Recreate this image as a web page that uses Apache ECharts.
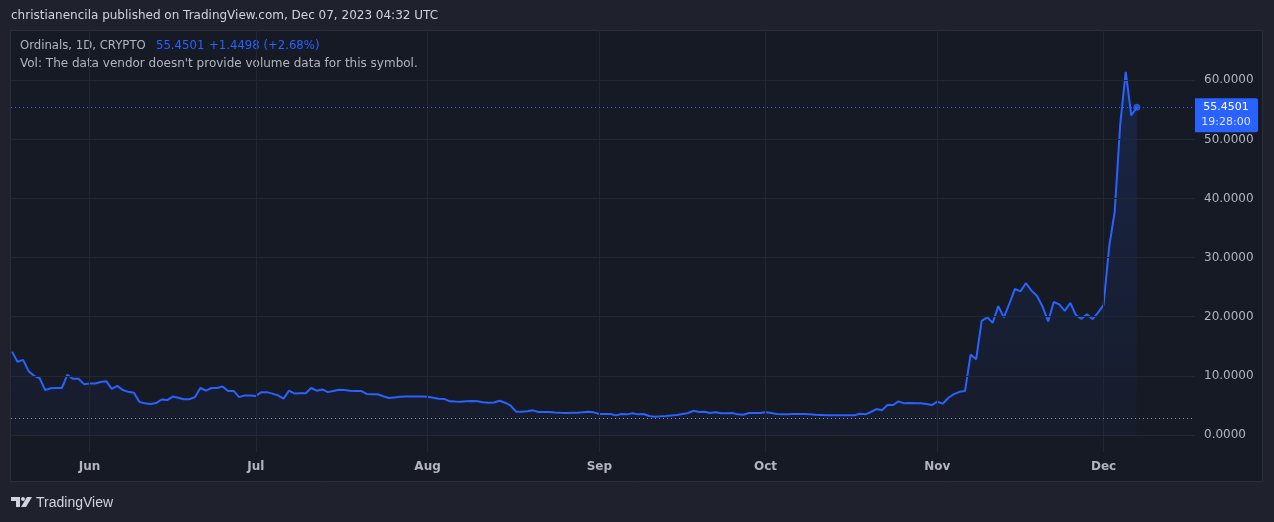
<!DOCTYPE html>
<html>
<head>
<meta charset="utf-8">
<script src="https://cdn.jsdelivr.net/npm/echarts@6/dist/echarts.min.js"></script>
<style>
html,body{margin:0;padding:0;background:#1f222d;}
#c{width:1274px;height:522px;}
</style>
</head>
<body>
<div id="c"></div>
<script>
// Ordinals (ORDI) daily close, 2023-05-18 .. 2023-12-07 (index = day offset)
const startDate = '2023-05-18';
const prices = [
14.1,12.4,12.7,10.8,10.0,9.6,7.6,7.9,7.95,7.95,
10.2,9.5,9.5,8.6,8.7,8.7,8.95,9.1,7.8,8.3,
7.6,7.3,7.15,5.6,5.35,5.25,5.4,6.0,5.9,6.5,
6.3,6.05,6.05,6.4,7.95,7.5,7.95,7.95,8.2,7.45,
7.45,6.4,6.7,6.7,6.6,7.25,7.25,7.0,6.7,6.15,
7.5,7.0,7.05,7.05,7.95,7.5,7.7,7.25,7.45,7.65,
7.6,7.5,7.45,7.45,6.95,6.9,6.9,6.55,6.25,6.35,
6.45,6.5,6.5,6.5,6.5,6.47,6.3,6.13,6.1,5.7,
5.65,5.63,5.7,5.74,5.7,5.55,5.46,5.5,5.8,5.46,
4.95,3.94,3.95,4.0,4.17,3.89,3.89,3.89,3.8,3.75,
3.72,3.75,3.77,3.85,3.94,3.83,3.55,3.55,3.55,3.32,
3.55,3.49,3.66,3.49,3.55,3.21,3.1,3.15,3.21,3.3,
3.38,3.55,3.72,4.1,3.89,3.94,3.72,3.83,3.66,3.66,
3.72,3.49,3.43,3.72,3.72,3.72,3.83,3.72,3.55,3.5,
3.49,3.55,3.55,3.55,3.5,3.43,3.38,3.32,3.32,3.32,
3.32,3.32,3.32,3.6,3.49,3.89,4.39,4.2,5.07,5.07,
5.69,5.35,5.4,5.38,5.35,5.24,5.07,5.63,5.3,6.3,
6.9,7.3,7.45,13.6,12.8,19.3,19.9,19.0,21.8,19.9,
22.2,24.7,24.3,25.7,24.4,23.5,21.7,19.2,22.5,22.1,
21.0,22.35,20.3,19.65,20.4,19.6,20.7,22.0,31.8,37.7,
52.5,61.4,54.05,55.4501
];
const monthLabels = ['Jun','Jul','Aug','Sep','Oct','Nov','Dec'];
const monthTickIdx = [14,44,75,106,136,167,197];
const yTicks = [0,10,20,30,40,50,60];
const lowLine = 2.85;
const lastTime = '19:28:00';
const change = '+1.4498 (+2.68%)';

const lastIdx = prices.length - 1;
const lastVal = prices[lastIdx];
const seriesData = prices.map((v, i) => [i, v]);

const GRID = {left: 11, right: 79, top: 30, bottom: 70};
const gridColor = '#232733';
const textColor = '#b2b5be';
const blue = '#2962ff';
const FONT = 'Liberation Sans, Arial, sans-serif';
const DV = 'DejaVu Sans, sans-serif';

const chart = echarts.init(document.getElementById('c'), null, {renderer: 'canvas'});

const gridLines = [];
yTicks.forEach(v => gridLines.push({yAxis: v}));
monthTickIdx.forEach(v => gridLines.push({xAxis: v}));

const option = {
  backgroundColor: '#1f222d',
  animation: false,
  grid: GRID,
  xAxis: {
    type: 'value',
    min: -0.18,
    max: 213.5,
    axisLine: {show: false},
    axisTick: {show: false},
    splitLine: {show: false},
    axisLabel: {
      customValues: monthTickIdx,
      color: textColor,
      fontFamily: DV,
      fontSize: 12,
      fontWeight: 'bold',
      margin: 9,
      formatter: v => monthLabels[monthTickIdx.indexOf(v)] || ''
    }
  },
  yAxis: {
    type: 'value',
    position: 'right',
    min: -2.876,
    max: 68.5,
    axisLine: {show: false},
    axisTick: {show: false},
    splitLine: {show: false},
    axisLabel: {
      customValues: yTicks,
      color: textColor,
      fontFamily: DV,
      fontSize: 12,
      margin: 9,
      formatter: v => v.toFixed(4)
    }
  },
  series: [
    {
      name: 'grid',
      type: 'line',
      data: [],
      z: 0,
      silent: true,
      markLine: {
        silent: true,
        symbol: ['none', 'none'],
        label: {show: false},
        lineStyle: {type: 'solid', color: gridColor, width: 1},
        data: gridLines,
        animation: false
      }
    },
    {
      name: 'Ordinals',
      type: 'line',
      data: seriesData,
      z: 3,
      symbol: 'none',
      lineStyle: {color: blue, width: 2},
      areaStyle: {
        origin: 0,
        color: new echarts.graphic.LinearGradient(0, 0, 0, 1, [
          {offset: 0, color: 'rgba(41,98,255,0.22)'},
          {offset: 1, color: 'rgba(41,98,255,0.04)'}
        ])
      },
      markLine: {
        silent: true,
        symbol: ['none', 'none'],
        label: {show: false},
        animation: false,
        data: [
          {yAxis: lastVal, lineStyle: {type: [1, 3], color: blue, width: 1}},
          {yAxis: lowLine, lineStyle: {type: [1, 3], color: '#9598a1', width: 1}}
        ]
      }
    },
    {
      name: 'last',
      type: 'scatter',
      z: 4,
      data: [[lastIdx, lastVal]],
      symbol: 'circle',
      symbolSize: 7,
      itemStyle: {color: blue}
    }
  ],
  graphic: [
    {type: 'rect', z: -10, silent: true,
     shape: {x: 10.5, y: 30.5, width: 1252, height: 451},
     style: {fill: '#161a25', stroke: '#2a2e39', lineWidth: 1}},
    {type: 'text', left: 11, top: 10, silent: true,
     style: {text: 'christianencila published on TradingView.com, Dec 07, 2023 04:32 UTC',
             fill: '#d1d4dc', font: '12px ' + DV}},
    {type: 'text', left: 20, top: 40, silent: true,
     style: {text: 'Ordinals, 1D, CRYPTO', fill: textColor, font: '11.7px ' + DV}},
    {type: 'text', left: 156, top: 40, silent: true,
     style: {text: lastVal.toFixed(4), fill: blue, font: '11.7px ' + DV}},
    {type: 'text', left: 209, top: 40, silent: true,
     style: {text: change, fill: blue, font: '11.7px ' + DV}},
    {type: 'text', left: 20, top: 58, silent: true,
     style: {text: "Vol: The data vendor doesn't provide volume data for this symbol.", fill: textColor, font: '12px ' + DV}},
    // TradingView logo
    {type: 'polygon', silent: true,
     shape: {points: [[11,497],[20,497],[20,507],[16,507],[16,501],[11,501]]},
     style: {fill: '#d1d4dc'}},
    {type: 'circle', silent: true, shape: {cx: 23, cy: 499, r: 2}, style: {fill: '#d1d4dc'}},
    {type: 'polygon', silent: true,
     shape: {points: [[27,497],[32,497],[26,507],[21,507]]},
     style: {fill: '#d1d4dc'}},
    {type: 'text', left: 36, top: 496, silent: true,
     style: {text: 'TradingView', fill: '#d1d4dc', font: '14px ' + FONT}}
  ]
};

chart.setOption(option);

// price tag in the right axis area, positioned through the chart's own scales
const p = chart.convertToPixel({gridIndex: 0}, [lastIdx, lastVal]);
const tagX = 1274 - GRID.right;
chart.setOption({
  graphic: option.graphic.concat([
    {type: 'rect', silent: true, z: 10,
     shape: {x: tagX, y: p[1] - 9, width: 63, height: 34, r: [0, 2, 2, 0]},
     style: {fill: blue}},
    {type: 'text', silent: true, z: 11, x: tagX + 31, y: p[1],
     style: {text: lastVal.toFixed(4), fill: '#ffffff', font: '11px ' + DV,
             textAlign: 'center', textVerticalAlign: 'middle'}},
    {type: 'text', silent: true, z: 11, x: tagX + 31, y: p[1] + 15,
     style: {text: lastTime, fill: '#dbe3ff', font: '11px ' + DV,
             textAlign: 'center', textVerticalAlign: 'middle'}}
  ])
});
</script>
</body>
</html>
